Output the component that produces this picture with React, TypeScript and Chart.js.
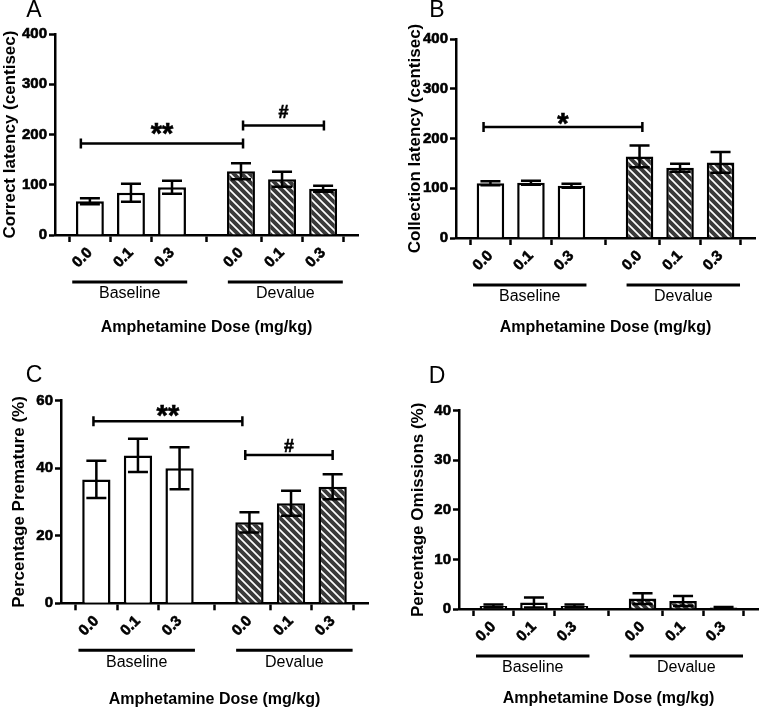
import React, { useEffect, useRef } from "react";
import { Chart, registerables } from "chart.js";

Chart.register(...registerables);

// ---------- data ----------
const doseLabels = ["0.0", "0.1", "0.3", "0.0", "0.1", "0.3"];
const groupLabels = ["Baseline", "Devalue"];
const groupOf = [0, 0, 0, 1, 1, 1];
const indexInGroup = [0, 1, 2, 0, 1, 2];
const xAxisTitle = "Amphetamine Dose (mg/kg)";

const correctLatency = [67, 84, 95, 127, 111, 92];
const correctLatencyErr = [6, 18, 13, 16, 15, 6];

const collectionLatency = [110, 111, 105, 164, 141, 152];
const collectionLatencyErr = [4, 4, 4, 22, 8, 21];

const premature = [36.7, 43.8, 40.0, 24.0, 29.6, 34.5];
const prematureErr = [5.5, 4.9, 6.2, 3.0, 3.7, 3.7];

const omissions = [0.6, 1.3, 0.6, 2.1, 1.6, 0.3];
const omissionsErr = [0.3, 1.0, 0.3, 1.1, 1.0, 0.1];

// significance brackets: bar indices, height (in data units) and label
const bracketsA = [
  { from: 0, to: 3, value: 182, label: "**" },
  { from: 3, to: 5, value: 218, label: "#" },
];
const bracketsB = [{ from: 0, to: 3, value: 223, label: "*" }];
const bracketsC = [
  { from: 0, to: 3, value: 53.9, label: "**" },
  { from: 3, to: 5, value: 43.9, label: "#" },
];
const bracketsD: { from: number; to: number; value: number; label: string }[] = [];

// ---------- layout / style ----------
const FONT = "'Liberation Sans', Arial, Helvetica, sans-serif";
const GROUP_GAP = 0.68;
const X_MIN = -0.85;
const X_MAX = 6.53;
const CAP = 10;
const LW = 2.5;
const GROUP_EXTENT = [
  [-0.43, 0.37],
  [-0.32, 0.48],
];

const xPos = (i: number) => groupOf[i] * (3 + GROUP_GAP) + indexInGroup[i];

type Bracket = { from: number; to: number; value: number; label: string };
type BracketStyle = { dFrom: number; dTo: number; lift: number };

type Panel = {
  letter: string;
  yTitle: string;
  values: number[];
  errors: number[];
  yMax: number;
  yStep: number;
  brackets: Bracket[];
  bracketStyle: BracketStyle[];
  left: number;
  top: number;
  width: number;
  height: number;
  axisX: number;
  chartTop: number;
  chartBottom: number;
  chartRight: number;
  yTitleX: number;
  xTitlePad: number;
  letterX: number;
  letterY: number;
};

const panels: Panel[] = [
  {
    letter: "A",
    yTitle: "Correct latency (centisec)",
    values: correctLatency,
    errors: correctLatencyErr,
    yMax: 400,
    yStep: 100,
    brackets: bracketsA,
    bracketStyle: [
      { dFrom: -0.22, dTo: 0.05, lift: 1 },
      { dFrom: 0.05, dTo: 0.02, lift: 7 },
    ],
    left: 0,
    top: 0,
    width: 380,
    height: 354,
    axisX: 55,
    chartTop: 34,
    chartBottom: 235,
    chartRight: 358,
    yTitleX: 10,
    xTitlePad: 18,
    letterX: 34,
    letterY: 11,
  },
  {
    letter: "B",
    yTitle: "Collection latency (centisec)",
    values: collectionLatency,
    errors: collectionLatencyErr,
    yMax: 400,
    yStep: 100,
    brackets: bracketsB,
    bracketStyle: [{ dFrom: -0.17, dTo: 0.07, lift: -6 }],
    left: 380,
    top: 0,
    width: 381,
    height: 354,
    axisX: 76,
    chartTop: 39,
    chartBottom: 238,
    chartRight: 375,
    yTitleX: 35,
    xTitlePad: 18,
    letterX: 57,
    letterY: 11,
  },
  {
    letter: "C",
    yTitle: "Percentage Premature (%)",
    values: premature,
    errors: prematureErr,
    yMax: 60,
    yStep: 20,
    brackets: bracketsC,
    bracketStyle: [
      { dFrom: -0.07, dTo: -0.17, lift: -4 },
      { dFrom: -0.1, dTo: 0, lift: 3 },
    ],
    left: 0,
    top: 354,
    width: 380,
    height: 354,
    axisX: 61,
    chartTop: 46.7,
    chartBottom: 249.3,
    chartRight: 368,
    yTitleX: 19,
    xTitlePad: 0,
    letterX: 34,
    letterY: 22,
  },
  {
    letter: "D",
    yTitle: "Percentage Omissions (%)",
    values: omissions,
    errors: omissionsErr,
    yMax: 40,
    yStep: 10,
    brackets: bracketsD,
    bracketStyle: [],
    left: 380,
    top: 354,
    width: 381,
    height: 354,
    axisX: 79,
    chartTop: 56.7,
    chartBottom: 255,
    chartRight: 378,
    yTitleX: 38,
    xTitlePad: 1,
    letterX: 57,
    letterY: 23,
  },
];

function makeHatch(): CanvasPattern | string {
  const s = 8;
  const c = document.createElement("canvas");
  c.width = s;
  c.height = s;
  const g = c.getContext("2d");
  if (!g) return "#3d3d3d";
  g.fillStyle = "#3a3a3a";
  g.fillRect(0, 0, s, s);
  g.strokeStyle = "#ffffff";
  g.lineWidth = 1.7;
  g.beginPath();
  g.moveTo(-2, -2);
  g.lineTo(s + 2, s + 2);
  g.moveTo(s - 2, -2);
  g.lineTo(s + 2, 2);
  g.moveTo(-2, s - 2);
  g.lineTo(2, s + 2);
  g.stroke();
  const p = g.createPattern(c, "repeat");
  return p || "#3d3d3d";
}

function PanelChart({ p }: { p: Panel }) {
  const ref = useRef<HTMLCanvasElement | null>(null);

  useEffect(() => {
    const canvas = ref.current;
    if (!canvas) return;
    const hatch = makeHatch();
    const Y_TITLE_SIZE = 17;
    const padLeft = Math.max(0, p.yTitleX - (Y_TITLE_SIZE * 1.2) / 2);

    const annot = {
      id: "annot",
      afterDraw(chart: any) {
        const ctx: CanvasRenderingContext2D = chart.ctx;
        const xs = chart.scales.x;
        const ys = chart.scales.y;
        const area = chart.chartArea;
        ctx.save();
        ctx.strokeStyle = "#000";
        ctx.fillStyle = "#000";
        ctx.lineWidth = LW;
        ctx.lineCap = "butt";

        // error bars
        p.values.forEach((v, i) => {
          const x = xs.getPixelForValue(xPos(i));
          const yT = ys.getPixelForValue(v + p.errors[i]);
          const yB = ys.getPixelForValue(Math.max(0, v - p.errors[i]));
          ctx.beginPath();
          ctx.moveTo(x, yT);
          ctx.lineTo(x, yB);
          ctx.moveTo(x - CAP, yT);
          ctx.lineTo(x + CAP, yT);
          ctx.moveTo(x - CAP, yB);
          ctx.lineTo(x + CAP, yB);
          ctx.stroke();
        });

        // significance brackets
        p.brackets.forEach((b, k) => {
          const st = p.bracketStyle[k] || { dFrom: 0, dTo: 0, lift: 0 };
          const x1 = xs.getPixelForValue(xPos(b.from) + st.dFrom);
          const x2 = xs.getPixelForValue(xPos(b.to) + st.dTo);
          const y = ys.getPixelForValue(b.value);
          ctx.lineWidth = LW;
          ctx.beginPath();
          ctx.moveTo(x1, y);
          ctx.lineTo(x2, y);
          ctx.moveTo(x1, y - 5);
          ctx.lineTo(x1, y + 5);
          ctx.moveTo(x2, y - 5);
          ctx.lineTo(x2, y + 5);
          ctx.stroke();
          const size = b.label.includes("*") ? 29 : 18;
          ctx.font = `bold ${size}px ${FONT}`;
          ctx.textAlign = "center";
          ctx.textBaseline = "alphabetic";
          ctx.lineWidth = 0.6;
          ctx.strokeText(b.label, (x1 + x2) / 2, y - st.lift);
          ctx.fillText(b.label, (x1 + x2) / 2, y - st.lift);
        });

        // group lines and labels
        groupLabels.forEach((g, gi) => {
          const idx = groupOf.map((v, i) => (v === gi ? i : -1)).filter((i) => i >= 0);
          const first = xPos(idx[0]);
          const last = xPos(idx[idx.length - 1]);
          const x1 = xs.getPixelForValue(first + GROUP_EXTENT[gi][0]);
          const x2 = xs.getPixelForValue(last + GROUP_EXTENT[gi][1]);
          const yl = area.bottom + 47;
          ctx.lineWidth = 3;
          ctx.beginPath();
          ctx.moveTo(x1, yl);
          ctx.lineTo(x2, yl);
          ctx.stroke();
          ctx.font = `16px ${FONT}`;
          ctx.textAlign = "center";
          ctx.textBaseline = "middle";
          ctx.fillText(g, (x1 + x2) / 2, area.bottom + 59);
        });

        // panel letter
        ctx.font = `23px ${FONT}`;
        ctx.textAlign = "center";
        ctx.textBaseline = "middle";
        ctx.fillText(p.letter, p.letterX, p.letterY);
        ctx.restore();
      },
    };

    const chart = new Chart(canvas, {
      type: "bar",
      data: {
        datasets: [
          {
            data: p.values.map((v, i) => ({ x: xPos(i), y: v })),
            backgroundColor: p.values.map((_, i) => (groupOf[i] === 0 ? "#ffffff" : hatch)) as any,
            borderColor: "#000",
            borderWidth: LW,
            borderSkipped: "bottom",
            barPercentage: 0.85,
            categoryPercentage: 0.8,
          } as any,
        ],
      },
      options: {
        animation: false,
        responsive: false,
        maintainAspectRatio: false,
        layout: {
          padding: {
            left: padLeft,
            top: p.chartTop,
            right: p.width - p.chartRight,
            bottom: 0,
          },
        },
        plugins: {
          legend: { display: false },
          tooltip: { enabled: false },
        },
        scales: {
          x: {
            type: "linear",
            min: X_MIN,
            max: X_MAX,
            offset: false,
            afterBuildTicks: (s: any) => {
              s.ticks = doseLabels.map((_, i) => ({ value: xPos(i) }));
            },
            afterFit: (s: any) => {
              s.height = p.height - p.chartBottom;
            },
            ticks: {
              autoSkip: false,
              minRotation: 45,
              maxRotation: 45,
              padding: 2,
              color: "#000",
              textStrokeColor: "#000",
              textStrokeWidth: 0.6,
              font: { family: FONT, size: 15, weight: "bold" },
              callback: (_v: any, i: number) => doseLabels[i],
            },
            grid: {
              display: true,
              drawOnChartArea: false,
              drawTicks: true,
              tickLength: 7,
              tickWidth: LW,
              tickColor: "#000",
            },
            border: { display: true, color: "#000", width: LW },
            title: {
              display: true,
              text: xAxisTitle,
              color: "#000",
              font: { family: FONT, size: 16, weight: "bold", lineHeight: 1 },
              padding: { top: 0, bottom: p.xTitlePad },
            },
          } as any,
          y: {
            type: "linear",
            min: 0,
            max: p.yMax,
            afterFit: (s: any) => {
              s.width = p.axisX - padLeft;
            },
            ticks: {
              stepSize: p.yStep,
              padding: 2,
              color: "#000",
              textStrokeColor: "#000",
              textStrokeWidth: 0.6,
              font: { family: FONT, size: 15, weight: "bold" },
            },
            grid: {
              display: true,
              drawOnChartArea: false,
              drawTicks: true,
              tickLength: 6,
              tickWidth: LW,
              tickColor: "#000",
            },
            border: { display: true, color: "#000", width: LW },
            title: {
              display: true,
              text: p.yTitle,
              color: "#000",
              font: { family: FONT, size: Y_TITLE_SIZE, weight: "bold", lineHeight: 1.2 },
              padding: 0,
            },
          } as any,
        },
      },
      plugins: [annot as any],
    });

    return () => chart.destroy();
  }, [p]);

  return (
    <canvas
      ref={ref}
      width={p.width}
      height={p.height}
      style={{
        position: "absolute",
        left: p.left,
        top: p.top,
        width: p.width,
        height: p.height,
      }}
    />
  );
}

export default function App() {
  return (
    <div
      style={{
        position: "absolute",
        left: 0,
        top: 0,
        width: 761,
        height: 708,
        background: "#fff",
        overflow: "hidden",
      }}
    >
      {panels.map((p) => (
        <PanelChart key={p.letter} p={p} />
      ))}
    </div>
  );
}
